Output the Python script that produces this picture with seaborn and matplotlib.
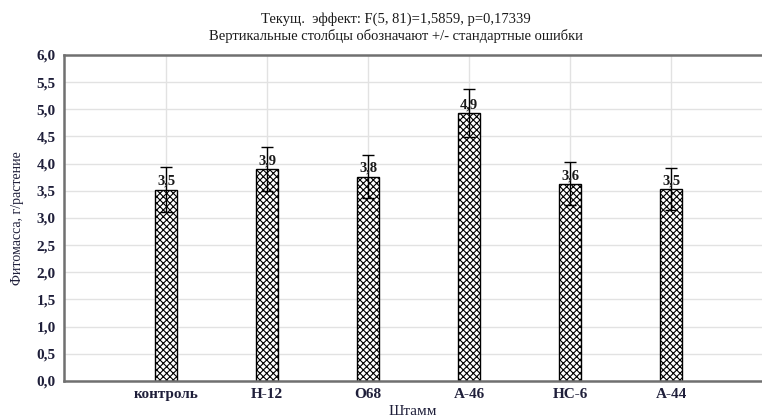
import numpy as np
import pandas as pd
import matplotlib
matplotlib.use("Agg")
import matplotlib.pyplot as plt
import seaborn as sns
from matplotlib.ticker import FuncFormatter, MultipleLocator

# Data
strains = ["контроль", "H-12", "O68", "A-46", "HC-6", "A-44"]
means = [3.52, 3.90, 3.76, 4.93, 3.63, 3.53]
sems = [0.41, 0.40, 0.40, 0.44, 0.40, 0.38]
labels = ["3,5", "3,9", "3,8", "4,9", "3,6", "3,5"]

df = pd.DataFrame({"strain": strains, "mass": means, "se": sems})

sns.set_style("white")
plt.rcParams["font.family"] = ["Liberation Serif", "DejaVu Serif"]
plt.rcParams["hatch.linewidth"] = 0.8

fig = plt.figure(figsize=(7.62, 4.19), dpi=100)
ax = fig.add_axes([0.084, 0.091, 0.916, 0.778])

sns.barplot(data=df, x="strain", y="mass", ax=ax, color="white",
            edgecolor="black", linewidth=1.0, width=0.21, hatch="xxxxx",
            errorbar=None, zorder=2)
ax.errorbar(np.arange(len(strains)), df["mass"], yerr=df["se"], fmt="none",
            ecolor="black", elinewidth=1.0, capsize=4, capthick=1.0, zorder=3)

# grid after barplot so the categorical axis keeps its vertical lines
ax.grid(True, axis="both", color="#e2e2e2", linewidth=1.0)
ax.set_axisbelow(True)

for i, (m, lab) in enumerate(zip(means, labels)):
    ax.text(i, m + 0.03, lab, ha="center", va="bottom", fontsize=10.5,
            fontweight="bold", color="#1a1a1a", zorder=4)

ax.set_ylim(0, 6)
ax.set_xlim(-1.01, 5.9)
ax.yaxis.set_major_locator(MultipleLocator(0.5))
ax.yaxis.set_major_formatter(FuncFormatter(lambda v, p: f"{v:.1f}".replace(".", ",")))

for side in ["left", "top", "bottom"]:
    ax.spines[side].set_color("#707070")
    ax.spines[side].set_linewidth(1.8)
ax.spines["right"].set_visible(False)

ax.tick_params(axis="y", length=0, labelsize=11, labelcolor="#1f1f3a", pad=6)
ax.tick_params(axis="x", length=0, labelsize=11, labelcolor="#1f1f3a", pad=5)
for t in ax.get_xticklabels() + ax.get_yticklabels():
    t.set_fontweight("bold")

ax.set_xlabel("Штамм", fontsize=11, color="#1f1f3a", labelpad=3)
ax.set_ylabel("Фитомасса, г/растение", fontsize=10, color="#1f1f3a", labelpad=9)

fig.text(0.52, 0.955, "Текущ.  эффект: F(5, 81)=1,5859, p=0,17339",
         ha="center", va="center", fontsize=10.5, color="#1a1a1a")
fig.text(0.52, 0.915, "Вертикальные столбцы обозначают +/- стандартные ошибки",
         ha="center", va="center", fontsize=10.5, color="#1a1a1a")

fig.savefig("out.png", dpi=100)
